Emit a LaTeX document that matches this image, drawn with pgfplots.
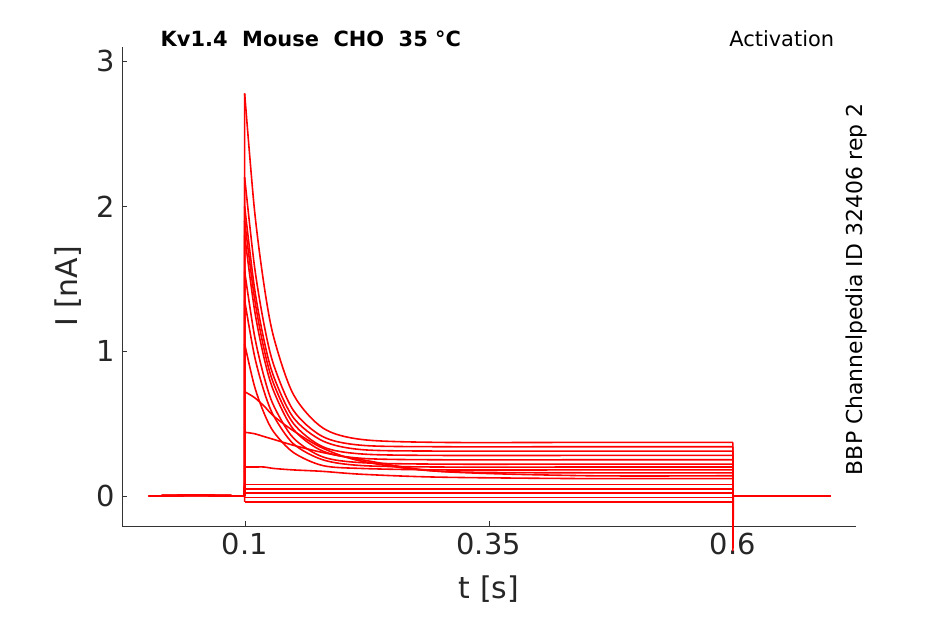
\documentclass[border=0pt]{standalone}
\usepackage{pgfplots}
\pgfplotsset{compat=1.18}
\usepackage{fontspec}
\setmainfont{DejaVu Sans}
\newcommand\tr[9]{\addplot[red,line width=1.6pt] coordinates {(0.002,0)(0.05,0.005)(0.0999,0)};
\addplot[red,line width=1.6pt,smooth,tension=0.5] coordinates {(0.1,#1)(0.11,#2)(0.12,#3)(0.13,#4)(0.15,#5)(0.18,#6)(0.22,#7)(0.3,#8)(0.45,#9)(0.6,#9)};
\addplot[red,line width=1.6pt] coordinates {(0.0999,0)(0.1,#1)};
\addplot[red,line width=1.6pt] coordinates {(0.6,#9)(0.6001,0)(0.7,0)};}
\begin{document}
\begin{tikzpicture}
\begin{axis}[scale only axis,width=734bp,height=479bp,
 xmin=-0.0256,xmax=0.726,ymin=-0.207,ymax=3.1,
 axis x line*=bottom,axis y line*=left,
 xtick={0.1,0.35,0.6},xticklabels={0.1,0.35,0.6},ytick={0,1,2,3},
 tick style={black!80},axis line style={black!80},
 tick align=inside, major tick length=5pt,
 ticklabel style={font=\fontsize{29}{29}\selectfont,text=black!85},
 xticklabel style={yshift=-4pt}, yticklabel style={xshift=-4pt},
 /pgf/number format/assume math mode=true,
 xlabel={t [s]},ylabel={I [nA]},
 xlabel style={yshift=-14pt},ylabel style={yshift=8pt},
 label style={font=\fontsize{30}{30}\selectfont,text=black!85},
 clip=false]
\useasboundingbox (axis description cs:-0.1662,-0.2046) rectangle (axis description cs:1.1213,1.0981);
\tr{2.78}{1.98}{1.45}{1.09}{0.70}{0.47}{0.39}{0.37}{0.37}
\tr{2.2}{1.59}{1.18}{0.90}{0.59}{0.41}{0.35}{0.34}{0.34}
\tr{2.0}{1.44}{1.07}{0.82}{0.54}{0.38}{0.32}{0.31}{0.31}
\tr{1.9}{1.37}{1.01}{0.77}{0.50}{0.34}{0.29}{0.28}{0.28}
\tr{1.8}{1.29}{0.95}{0.72}{0.46}{0.31}{0.26}{0.25}{0.25}
\tr{1.55}{1.11}{0.82}{0.62}{0.40}{0.27}{0.23}{0.22}{0.22}
\tr{1.35}{0.97}{0.72}{0.55}{0.36}{0.25}{0.21}{0.2}{0.2}
\tr{1.05}{0.76}{0.57}{0.44}{0.30}{0.21}{0.19}{0.18}{0.18}
\tr{0.72}{0.68}{0.62}{0.55}{0.45}{0.33}{0.24}{0.17}{0.16}
\tr{0.44}{0.43}{0.41}{0.39}{0.35}{0.30}{0.25}{0.17}{0.14}
\tr{0.2}{0.2}{0.2}{0.19}{0.18}{0.17}{0.15}{0.13}{0.12}
\tr{0.08}{0.08}{0.08}{0.08}{0.08}{0.08}{0.08}{0.08}{0.08}
\tr{0.05}{0.05}{0.05}{0.05}{0.05}{0.05}{0.05}{0.05}{0.05}
\tr{0.02}{0.02}{0.02}{0.02}{0.02}{0.02}{0.02}{0.02}{0.02}
\tr{-0.01}{-0.01}{-0.01}{-0.01}{-0.01}{-0.01}{-0.01}{-0.01}{-0.01}
\tr{-0.04}{-0.04}{-0.04}{-0.04}{-0.04}{-0.04}{-0.04}{-0.04}{-0.04}
\addplot[red,line width=1.6pt] coordinates {(0.6,0)(0.6,-0.38)(0.6005,0)};
\node[anchor=south west,font=\bfseries\fontsize{21}{21}\selectfont] at (axis description cs:0.048,0.993) {Kv1.4\ \ Mouse\ \ CHO\ \ 35 °C};
\node[anchor=south east,font=\fontsize{21}{21}\selectfont] at (axis description cs:0.975,0.993) {Activation};
\node[rotate=90,anchor=north east,font=\fontsize{22}{22}\selectfont] at (axis description cs:0.982,0.89) {BBP Channelpedia ID 32406 rep 2};
\end{axis}
\end{tikzpicture}
\end{document}
